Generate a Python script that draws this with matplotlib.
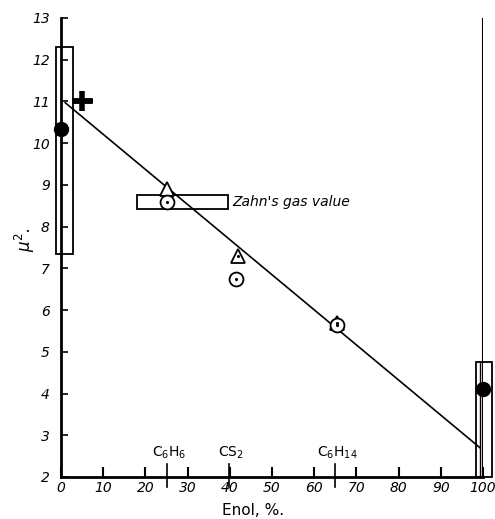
import matplotlib
matplotlib.use("Agg")
import matplotlib.pyplot as plt
from matplotlib.patches import Rectangle

# data
filled_x = [0, 100]
filled_y = [10.33, 4.1]
plus_x = [5]
plus_y = [11.0]
circle_x = [25, 41.5, 65.5]
circle_y = [8.58, 6.75, 5.65]
tri_x = [25, 42, 65.5]
tri_y = [8.9, 7.3, 5.68]
fit_x = [1, 99.3]
fit_y = [10.97, 2.7]

# uncertainty boxes: (x0, x1, y0, y1)
boxes = [(-1.1, 2.8, 7.35, 12.3), (18, 39.6, 8.42, 8.75), (98.4, 102.1, 2.0, 4.76)]

solvent_x = [25, 39.7, 65]
solvent_names = [r"C$_6$H$_6$", r"CS$_2$", r"C$_6$H$_{14}$"]

xticks = list(range(0, 101, 10))
yticks = list(range(2, 14))

fig = plt.figure(figsize=(4.95, 5.19), dpi=100)
ax = fig.add_axes([61 / 495, 42 / 519, 422 / 495, 459 / 519])
ax.set_xlim(0, 100)
ax.set_ylim(2, 13)

for s in ["top", "right"]:
    ax.spines[s].set_visible(False)
for s in ["left", "bottom"]:
    ax.spines[s].set_linewidth(2)

ax.set_xticks(xticks)
ax.set_yticks(yticks)
ax.tick_params(axis="x", direction="in", length=7, width=1.5, pad=3)
ax.tick_params(axis="y", direction="in", length=5, width=1.2, pad=8)
ax.set_xticklabels([str(t) for t in xticks], fontsize=10, fontstyle="italic")
ax.set_yticklabels([str(t) for t in yticks], fontsize=10, fontstyle="italic")

# vertical line at 100 % enol
ax.axvline(100, color="black", lw=1.5)
ax.plot([99.3, 99.3], [2, 4.76], color="black", lw=1)

for x0, x1, y0, y1 in boxes:
    ax.add_patch(Rectangle((x0, y0), x1 - x0, y1 - y0, fill=False,
                           edgecolor="black", lw=1.3, clip_on=False, zorder=3))

ax.plot(fit_x, fit_y, color="black", lw=1.2, zorder=4)

ax.plot(tri_x, tri_y, "^", ms=10, mfc="white", mec="black", mew=1.3, zorder=5)
ax.plot(tri_x[1:], tri_y[1:], ".", ms=2.5, color="black", zorder=6)
ax.plot(circle_x, circle_y, "o", ms=10, mfc="white", mec="black", mew=1.3, zorder=5)
ax.plot(circle_x, circle_y, ".", ms=2.5, color="black", zorder=6)
ax.plot(filled_x, filled_y, "o", ms=10, color="black", zorder=6, clip_on=False)
ax.plot(plus_x, plus_y, "+", ms=15, mew=4, color="black", zorder=6)
ax.plot([2.8, 7.7], [11, 11], color="black", lw=4, zorder=6, solid_capstyle="butt")

ax.text(40.5, 8.58, "Zahn's gas value", fontsize=10, fontstyle="italic", va="center")

# solvent markers on the x axis
for sx, name in zip(solvent_x, solvent_names):
    ax.plot([sx, sx], [1.75, 2.3], color="black", lw=1.2, clip_on=False)
    ax.text(sx + 0.6, 2.38, name, fontsize=10, ha="center", va="bottom")

ax.text(45.5, 1.2, "Enol, %.", fontsize=11, ha="center", va="center")
fig.text(25 / 495, 1 - 240 / 519, r"$\mu^2$.", rotation=90, fontsize=12,
         ha="center", va="center", fontstyle="italic")

fig.savefig("out.png", dpi=100)
